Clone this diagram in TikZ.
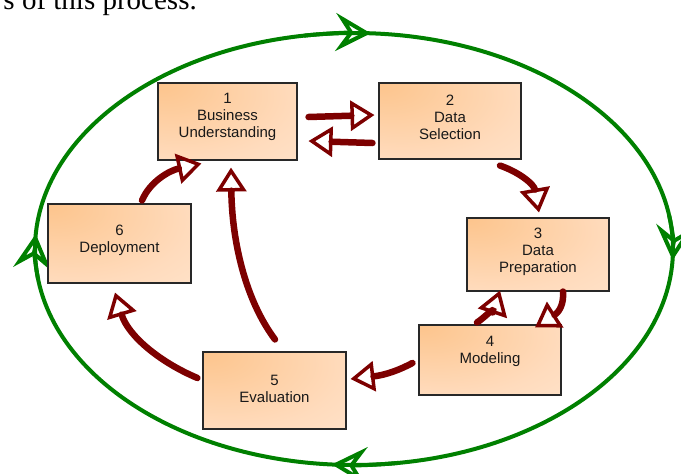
\documentclass[tikz,border=0pt]{standalone}
\usepackage{fontspec}
\setmainfont{Liberation Sans}
\newfontfamily\topserif{Liberation Serif}
\usetikzlibrary{arrows.meta,calc}
\definecolor{cgreen}{RGB}{0,128,0}
\definecolor{cred}{RGB}{125,0,0}
\definecolor{cborder}{RGB}{40,40,40}
\definecolor{ctext}{RGB}{25,25,25}
\pgfdeclareradialshading{boxshade}{\pgfpoint{-25bp}{25bp}}{rgb(0bp)=(0.99,0.77,0.55); rgb(40bp)=(1,0.86,0.74); rgb(75bp)=(1,0.92,0.85); rgb(100bp)=(1,0.92,0.85)}
\begin{document}
\begin{tikzpicture}[x=1pt,y=-1pt,
  box/.style={draw=cborder, line width=1.1pt, shade, shading=boxshade, inner sep=0pt},
  lbl/.style={font=\fontsize{15}{17}\selectfont, text=ctext, align=center, inner sep=0pt},
  flow/.style={draw=cred, line width=6.5pt, line cap=round, -{Triangle[open, length=24pt, width=30pt, line width=3.5pt]}},
  cycleline/.style={draw=cgreen, line width=4pt},
  cyclehead/.style={draw=cgreen, line width=4pt, -{Stealth[open, length=35pt, width=38pt, inset=13pt, line width=4pt]}}]
\useasboundingbox (0,0) rectangle (681,474);
\clip (0,0) rectangle (681,474);
\node[anchor=base east, inner sep=0pt, font=\topserif\fontsize{29}{31}\selectfont] (intro) at (197,9) {s of this process.};
% outer cycle
\draw[cycleline] (354,249) ellipse [x radius=319, y radius=216];
\foreach \a in {261,-9,82,172}{
  \draw[cyclehead] ({354+319*cos(\a)},{249+216*sin(\a)}) arc[start angle=\a, end angle=\a+12, x radius=319, y radius=216];
}
% boxes
\node[box, minimum width=139pt, minimum height=77pt] (b1) at (227.5,121.5) {};
\node[box, minimum width=142pt, minimum height=76pt] (b2) at (450,121) {};
\node[box, minimum width=142pt, minimum height=73pt] (b3) at (538,254.5) {};
\node[box, minimum width=142pt, minimum height=70pt] (b4) at (490,360) {};
\node[box, minimum width=143pt, minimum height=77pt] (b5) at (274.5,390.5) {};
\node[box, minimum width=143pt, minimum height=79pt] (b6) at (119.5,243.5) {};
\node[lbl] (t1) at ($(b1.center)+(0,-4.5)$) {1\\Business\\Understanding};
\node[lbl] (t2) at ($(b2.center)+(0,-4)$) {2\\Data\\Selection};
\node[lbl] (t3) at ($(b3.center)+(0,-3)$) {3\\Data\\Preparation};
\node[lbl] (t4) at ($(b4.center)+(0,-9)$) {4\\Modeling};
\node[lbl] (t5) at ($(b5.center)+(0,-2)$) {5\\Evaluation};
\node[lbl] (t6) at ($(b6.center)+(0,-3)$) {6\\Deployment};
% process arrows
\draw[flow] ($(b1.east)+(11,-4.5)$) -- ($(b2.west)+(-4,-6)$);
\draw[flow] ($(b2.west)+(-6,22)$) -- ($(b1.east)+(11,19.5)$);
\draw[flow] ($(b2.south)+(50,6)$) .. controls +(20,7) and +(-5,-28) .. ($(b3.north)+(1,-5)$);
\draw[flow] ($(b3.south)+(25,0)$) .. controls +(1,11) and +(25,-16) .. ($(b4.north)+(45,3)$);
\draw[flow] ($(b4.north)+(-13,-2)$) .. controls +(8,-5) and +(-5,15) .. ($(b3.south)+(-38,-1)$);
\draw[flow] ($(b4.west)+(-6,3)$) .. controls +(-13,7) and +(35,-4) .. ($(b5.east)+(4,-11.5)$);
\draw[flow] ($(b5.north)+(0.5,-12)$) .. controls +(-30,-40) and +(1,73) .. ($(b1.south)+(3.5,7)$);
\draw[flow] ($(b5.west)+(-5,-12.5)$) .. controls +(-38,-16) and +(13,43) .. ($(b6.south)+(-4.5,9)$);
\draw[flow] ($(b6.north)+(22.5,-3)$) .. controls +(8,-19) and +(-32,7) .. ($(b1.south west)+(44,3)$);
\end{tikzpicture}
\end{document}
